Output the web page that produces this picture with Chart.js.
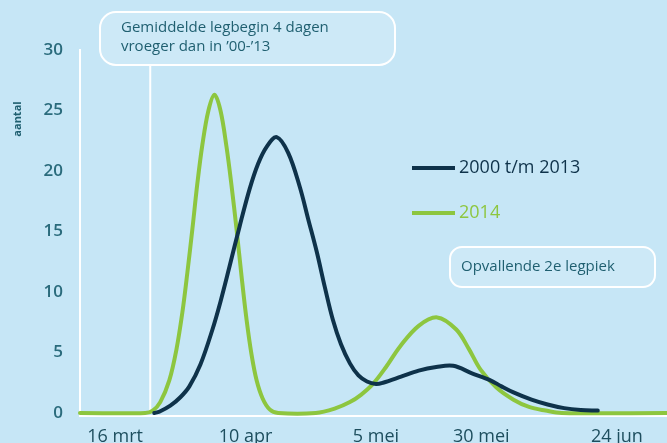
<!DOCTYPE html>
<html lang="nl">
<head>
<meta charset="UTF-8" />
<title>Legbegin 2014 vs 2000 t/m 2013</title>
<style>
  body { margin: 0; background: #c6e6f6; }
  #wrap { width: 667px; height: 443px; }
</style>
</head>
<body>
<div id="wrap"><canvas id="chart" width="667" height="443"></canvas></div>
<script src="https://cdn.jsdelivr.net/npm/chart.js"></script>
<script>
// x = dagen na 16 maart
const days0013 = [7.8, 8.8, 11, 13, 14.8, 17, 19.4, 21, 22.8, 24.8, 26.8, 28.5, 30.2, 32.2, 34.5, 36.8, 38.5, 40.2, 41.8, 43.4, 45, 46.8, 48.5, 50.2, 52, 53.4, 57, 60.5, 64, 67.4, 71, 74.8, 77, 79.4, 83, 86.2, 89.5, 92.8, 96.2]
const values0013 = [0, 0.1, 0.6, 1.3, 2.2, 4, 6.9, 9.2, 12.1, 15.4, 18.5, 20.6, 22, 22.8, 21.5, 18.7, 16, 13.3, 10.4, 7.7, 5.7, 4.1, 3.1, 2.6, 2.4, 2.5, 3, 3.5, 3.8, 3.9, 3.3, 2.7, 2.2, 1.7, 1.1, 0.7, 0.4, 0.25, 0.2]

const days2014 = [-7, 6, 7.5, 9, 10.8, 12.2, 13.4, 14.4, 15.4, 16.4, 17.4, 18.6, 19.8, 21, 22.2, 23.2, 24.2, 25.2, 26.2, 27.2, 28.2, 29.4, 30.8, 32.5, 40, 44, 46.8, 49, 51.4, 54, 56.8, 60.5, 64.2, 68, 70.5, 72.8, 76, 79.4, 82.5, 85.8, 89, 110]
const values2014 = [0, 0, 0.2, 0.9, 2.7, 5.2, 8.3, 11.6, 15.2, 19, 22.2, 25, 26.3, 25, 22, 18.8, 15.2, 11.3, 7.7, 4.8, 2.7, 1.2, 0.3, 0, 0, 0.4, 0.9, 1.5, 2.4, 3.8, 5.5, 7.2, 7.9, 6.9, 5.3, 3.6, 2.1, 1.1, 0.5, 0.2, 0, 0]

const tickDays = [0, 26, 52, 73, 100]
const tickLabels = ["16 mrt", "10 apr", "5 mei", "30 mei", "24 jun"]
const yTicks = [0, 5, 10, 15, 20, 25, 30]
const seriesNames = ["2000 t/m 2013", "2014"]
const start2014 = 7
const note1 = ["Gemiddelde legbegin 4 dagen", "vroeger dan in \u201900-\u201913"]
const note2 = "Opvallende 2e legpiek"

const navy = "#0e324a"
const green = "#8dc63f"
const teal = "#1f5f70"

function pts(xs, ys) {
  return xs.map((d, i) => ({ x: d, y: ys[i] }))
}

const decor = {
  id: "decor",
  beforeDatasetsDraw(chart) {
    const { ctx, scales } = chart
    const px = scales.x.getPixelForValue(start2014)
    ctx.save()
    ctx.strokeStyle = "#ffffff"
    ctx.lineWidth = 2
    ctx.beginPath()
    ctx.moveTo(px, 65)
    ctx.lineTo(px, scales.y.getPixelForValue(0))
    ctx.stroke()
    ctx.restore()
  },
  afterDraw(chart) {
    const ctx = chart.ctx
    ctx.save()
    // callout boven
    ctx.strokeStyle = "#ffffff"
    ctx.lineWidth = 2
    ctx.fillStyle = "rgba(255,255,255,0.12)"
    ctx.beginPath()
    ctx.roundRect(100, 12, 295, 53, 16)
    ctx.fill()
    ctx.stroke()
    ctx.fillStyle = teal
    ctx.font = "500 15px 'Open Sans'"
    ctx.textBaseline = "middle"
    ctx.fillText(note1[0], 121, 28)
    ctx.fillText(note1[1], 121, 47)

    // callout 2e piek
    ctx.beginPath()
    ctx.roundRect(450, 247, 205, 40, 12)
    ctx.fillStyle = "rgba(255,255,255,0.12)"
    ctx.fill()
    ctx.stroke()
    ctx.fillStyle = teal
    ctx.fillText(note2, 461, 267)

    // legenda
    ctx.lineWidth = 4
    ctx.strokeStyle = navy
    ctx.beginPath()
    ctx.moveTo(412, 168)
    ctx.lineTo(455, 168)
    ctx.stroke()
    ctx.strokeStyle = green
    ctx.beginPath()
    ctx.moveTo(412, 213)
    ctx.lineTo(455, 213)
    ctx.stroke()
    ctx.font = "500 18px 'Open Sans'"
    ctx.fillStyle = navy
    ctx.fillText(seriesNames[0], 459, 168)
    ctx.fillStyle = green
    ctx.fillText(seriesNames[1], 459, 213)

    // as-titel
    ctx.translate(18, 119)
    ctx.rotate(-Math.PI / 2)
    ctx.textAlign = "center"
    ctx.font = "bold 11px 'Open Sans'"
    ctx.fillStyle = teal
    ctx.fillText("aantal", 0, 0)
    ctx.restore()
  }
}

new Chart(document.getElementById("chart"), {
  type: "line",
  data: {
    datasets: [
      {
        label: seriesNames[0],
        data: pts(days0013, values0013),
        borderColor: navy,
        borderWidth: 4,
        order: 0
      },
      {
        label: seriesNames[1],
        data: pts(days2014, values2014),
        borderColor: green,
        borderWidth: 4,
        order: 1
      }
    ]
  },
  options: {
    responsive: false,
    animation: false,
    parsing: false,
    clip: false,
    layout: { padding: { top: 50, left: 0, right: 0, bottom: 0 } },
    plugins: {
      legend: { display: false },
      tooltip: { enabled: false }
    },
    elements: {
      line: { tension: 0.35, borderCapStyle: "round", borderJoinStyle: "round" },
      point: { radius: 0 }
    },
    scales: {
      x: {
        type: "linear",
        min: -7,
        max: 110,
        grid: { display: false },
        border: { display: true, color: "#ffffff", width: 2 },
        afterBuildTicks: (s) => { s.ticks = tickDays.map((v) => ({ value: v })) },
        afterFit: (s) => { s.height = 27 },
        ticks: {
          autoSkip: false,
          maxRotation: 0,
          padding: 2,
          color: "#1d4e5e",
          font: { family: "'Open Sans'", size: 18, weight: "500" },
          callback: (v) => tickLabels[tickDays.indexOf(v)]
        }
      },
      y: {
        min: -0.25,
        max: 30,
        grid: { display: false },
        border: { display: true, color: "#ffffff", width: 2 },
        afterBuildTicks: (s) => { s.ticks = yTicks.map((v) => ({ value: v })) },
        afterFit: (s) => { s.width = 80 },
        ticks: {
          padding: 9,
          color: "#2a6b7c",
          font: { family: "'Open Sans'", size: 17, weight: "600" }
        }
      }
    }
  },
  plugins: [decor]
})
</script>
</body>
</html>
